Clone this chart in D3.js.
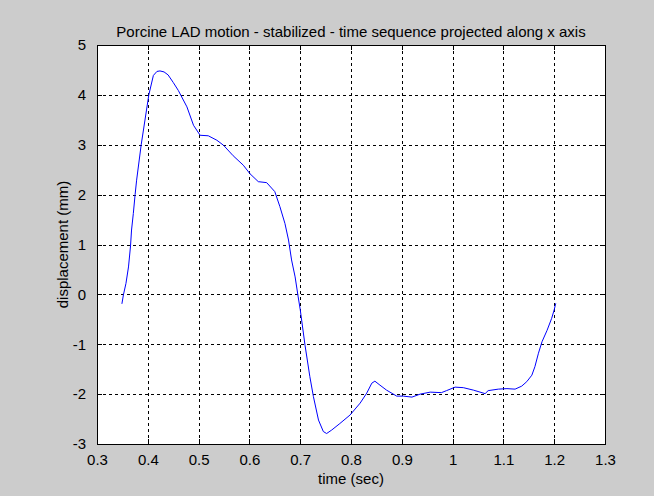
<!DOCTYPE html>
<html>
<head>
<meta charset="utf-8">
<script src="https://cdn.jsdelivr.net/npm/d3@7"></script>
<style>
  html, body { margin: 0; padding: 0; background: #cccccc; }
  svg { display: block; }
  text { font-family: "Liberation Sans", Arial, Helvetica, sans-serif; fill: #000; }
</style>
</head>
<body>
<svg id="chart" width="654" height="496"></svg>
<script>
// ---- data ----
const timeSec = [0.349, 0.352, 0.357, 0.362, 0.366, 0.368, 0.3715, 0.375, 0.378, 0.387,
  0.402, 0.411, 0.418, 0.424, 0.432, 0.440, 0.450, 0.460, 0.477, 0.490,
  0.503, 0.519, 0.536, 0.549, 0.568, 0.588, 0.601, 0.6175, 0.634, 0.650,
  0.660, 0.670, 0.677, 0.683, 0.690, 0.696, 0.700, 0.7095, 0.719, 0.726,
  0.736, 0.7455, 0.752, 0.762, 0.778, 0.798, 0.818, 0.831, 0.841, 0.847,
  0.857, 0.870, 0.890, 0.903, 0.920, 0.936, 0.956, 0.978, 0.988, 1.005,
  1.021, 1.041, 1.064, 1.070, 1.090, 1.107, 1.123, 1.136, 1.146, 1.156,
  1.162, 1.169, 1.176, 1.186, 1.195, 1.200, 1.203];
const displacementMm = [-0.19, -0.01, 0.22, 0.55, 0.97, 1.29, 1.62, 2.0, 2.29, 3.0,
  4.0, 4.39, 4.47, 4.48, 4.46, 4.40, 4.25, 4.09, 3.76, 3.39,
  3.19, 3.18, 3.09, 2.99, 2.78, 2.59, 2.42, 2.26, 2.24, 2.06,
  1.76, 1.42, 1.09, 0.69, 0.35, -0.05, -0.3, -1.02, -1.65, -2.05,
  -2.52, -2.75, -2.79, -2.72, -2.59, -2.42, -2.18, -1.98, -1.78, -1.74,
  -1.82, -1.92, -2.04, -2.04, -2.06, -2.0, -1.96, -1.97, -1.93, -1.86,
  -1.87, -1.92, -1.99, -1.93, -1.90, -1.89, -1.90, -1.84, -1.75, -1.62,
  -1.45, -1.18, -0.95, -0.72, -0.48, -0.31, -0.18];
const xTicks = [0.3, 0.4, 0.5, 0.6, 0.7, 0.8, 0.9, 1.0, 1.1, 1.2, 1.3];
const xTickLabels = ["0.3", "0.4", "0.5", "0.6", "0.7", "0.8", "0.9", "1", "1.1", "1.2", "1.3"];
const yTicks = [-3, -2, -1, 0, 1, 2, 3, 4, 5];
const yTickLabels = ["-3", "-2", "-1", "0", "1", "2", "3", "4", "5"];
const titleText = "Porcine LAD motion - stabilized - time sequence projected along x axis";
const xLabelText = "time (sec)";
const yLabelText = "displacement (mm)";

// ---- layout ----
const L = 97, R = 605, T = 45, B = 444;
const svg = d3.select("#chart");
const x = d3.scaleLinear().domain([0.3, 1.3]).range([L, R]);
const y = d3.scaleLinear().domain([-3, 5]).range([B, T]);

svg.append("rect").attr("x", 0).attr("y", 0).attr("width", 654).attr("height", 496).attr("fill", "#cccccc");
svg.append("rect").attr("x", L).attr("y", T).attr("width", R - L).attr("height", B - T).attr("fill", "#ffffff");

// grid
const grid = svg.append("g").attr("shape-rendering", "crispEdges");
grid.selectAll("line.gx").data(xTicks.slice(1, -1)).join("line")
  .attr("x1", d => Math.round(x(d)) + 0.5).attr("x2", d => Math.round(x(d)) + 0.5)
  .attr("y1", T).attr("y2", B)
  .attr("stroke", "#000").attr("stroke-width", 1).attr("stroke-dasharray", "3,3");
grid.selectAll("line.gy").data(yTicks.slice(1, -1)).join("line")
  .attr("y1", d => Math.round(y(d)) + 0.5).attr("y2", d => Math.round(y(d)) + 0.5)
  .attr("x1", L).attr("x2", R)
  .attr("stroke", "#000").attr("stroke-width", 1).attr("stroke-dasharray", "3,3");

// axes with inward ticks (box)
const fmtX = (d, i) => xTickLabels[xTicks.indexOf(d)];
const fmtY = (d) => yTickLabels[yTicks.indexOf(d)];
const axB = svg.append("g").attr("transform", `translate(0,${B})`)
  .call(d3.axisBottom(x).tickValues(xTicks).tickSizeInner(-5).tickSizeOuter(0).tickPadding(10).tickFormat(fmtX));
const axT = svg.append("g").attr("transform", `translate(0,${T})`)
  .call(d3.axisTop(x).tickValues(xTicks).tickSizeInner(-5).tickSizeOuter(0).tickFormat(""));
const axL = svg.append("g").attr("transform", `translate(${L},0)`)
  .call(d3.axisLeft(y).tickValues(yTicks).tickSizeInner(-5).tickSizeOuter(0).tickPadding(11).tickFormat(fmtY));
const axR = svg.append("g").attr("transform", `translate(${R},0)`)
  .call(d3.axisRight(y).tickValues(yTicks).tickSizeInner(-5).tickSizeOuter(0).tickFormat(""));
[axB, axT, axL, axR].forEach(g => {
  g.attr("shape-rendering", "crispEdges");
  g.selectAll("path, line").attr("stroke", "#000").attr("stroke-width", 1);
  g.selectAll("text").attr("font-size", "15px").attr("fill", "#000")
    .style("font-family", '"Liberation Sans", Arial, sans-serif');
});

// data line
const line = d3.line().x((d, i) => x(timeSec[i])).y(d => y(d));
svg.append("path").datum(displacementMm)
  .attr("d", line).attr("fill", "none").attr("stroke", "#0000ff").attr("stroke-width", 1);

// labels
svg.append("text").attr("x", (L + R) / 2).attr("y", 37).attr("text-anchor", "middle")
  .attr("font-size", "15px").text(titleText);
svg.append("text").attr("x", (L + R) / 2).attr("y", 484).attr("text-anchor", "middle")
  .attr("font-size", "15px").text(xLabelText);
svg.append("text").attr("transform", `translate(68,${(T + B) / 2}) rotate(-90)`).attr("text-anchor", "middle")
  .attr("font-size", "15px").text(yLabelText);
</script>
</body>
</html>
